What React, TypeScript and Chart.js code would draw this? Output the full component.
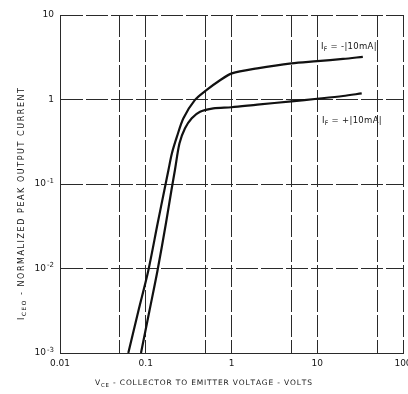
import React, { useEffect, useRef } from "react";
import { Chart, registerables } from "chart.js";

Chart.register(...registerables);

const upperX = [0.0626, 0.0823, 0.107, 0.1377, 0.165, 0.184, 0.202, 0.231, 0.275, 0.375, 0.514, 0.714, 1.01, 2, 5, 10, 20, 34];
const upperY = [0.001, 0.00318, 0.0094, 0.0343, 0.085, 0.1465, 0.231, 0.363, 0.6, 0.99, 1.3, 1.655, 2.04, 2.34, 2.68, 2.84, 3.02, 3.2];
const lowerX = [0.088, 0.1106, 0.137, 0.172, 0.1995, 0.219, 0.2475, 0.287, 0.344, 0.43, 0.614, 1.0, 2, 5, 10, 20, 33];
const lowerY = [0.001, 0.00318, 0.0094, 0.0343, 0.085, 0.1465, 0.303, 0.456, 0.6, 0.717, 0.787, 0.81, 0.87, 0.95, 1.02, 1.1, 1.18];

const xTickValues = [0.01, 0.1, 1, 10, 100];
const xTickLabels = ["0.01", "0.1", "1", "10", "100"];
const xGridValues = [0.01, 0.05, 0.1, 0.5, 1, 5, 10, 50, 100];
const yTickValues = [0.001, 0.01, 0.1, 1, 10];
const yTickBases = ["10", "10", "10", "1", "10"];
const yTickExps = ["-3", "-2", "-1", "", ""];

const upperLabel = [{ t: "I" }, { t: "F", sub: true }, { t: " = -|10mA|" }];
const lowerLabel = [{ t: "I" }, { t: "F", sub: true }, { t: " = +|10mA|" }];
const xTitle = [{ t: "V" }, { t: "CE", sub: true }, { t: " - COLLECTOR TO EMITTER VOLTAGE - VOLTS" }];
const yTitle = [{ t: "I" }, { t: "CEO", sub: true }, { t: " - NORMALIZED PEAK OUTPUT CURRENT" }];

type Part = { t: string; sub?: boolean };
const FONT = '"DejaVu Sans", sans-serif';

function measureParts(ctx: CanvasRenderingContext2D, parts: Part[], size: number) {
  let w = 0;
  let n = 0;
  for (const p of parts) {
    ctx.font = `${p.sub ? size * 0.72 : size}px ${FONT}`;
    for (const ch of p.t) {
      w += ctx.measureText(ch).width;
      n++;
    }
  }
  return { w, n };
}

function drawParts(ctx: CanvasRenderingContext2D, parts: Part[], x: number, y: number, size: number, spacing: number) {
  let cx = x;
  for (const p of parts) {
    ctx.font = `${p.sub ? size * 0.72 : size}px ${FONT}`;
    const dy = p.sub ? size * 0.32 : 0;
    for (const ch of p.t) {
      ctx.fillText(ch, cx, y + dy);
      cx += ctx.measureText(ch).width + spacing;
    }
  }
  return cx - x;
}

function drawFitted(ctx: CanvasRenderingContext2D, parts: Part[], x: number, y: number, size: number, width: number) {
  const m = measureParts(ctx, parts, size);
  const spacing = (width - m.w) / Math.max(1, m.n - 1);
  drawParts(ctx, parts, x, y, size, spacing);
}

const textPlugin = {
  id: "textPlugin",
  afterDraw(chart: any) {
    const ctx: CanvasRenderingContext2D = chart.ctx;
    const xs = chart.scales.x;
    const ys = chart.scales.y;
    ctx.save();
    ctx.fillStyle = "#151515";
    ctx.textBaseline = "middle";
    ctx.textAlign = "center";
    ctx.font = `9px ${FONT}`;
    xTickValues.forEach((v, i) => {
      ctx.fillText(xTickLabels[i], xs.getPixelForValue(v), 364);
    });
    ctx.textAlign = "left";
    yTickValues.forEach((v, i) => {
      const py = ys.getPixelForValue(v);
      ctx.font = `9px ${FONT}`;
      const bw = ctx.measureText(yTickBases[i]).width;
      ctx.font = `7px ${FONT}`;
      const ew = yTickExps[i] ? ctx.measureText(yTickExps[i]).width + 1 : 0;
      const right = 54;
      const start = right - bw - ew;
      ctx.font = `9px ${FONT}`;
      ctx.fillText(yTickBases[i], start, py);
      if (yTickExps[i]) {
        ctx.font = `7px ${FONT}`;
        ctx.fillText(yTickExps[i], start + bw + 1, py - 3);
      }
    });
    drawParts(ctx, upperLabel, 321, 47, 8.5, 0.3);
    drawParts(ctx, lowerLabel, 322, 121, 8.5, 0.3);
    drawFitted(ctx, xTitle, 95, 383, 7.5, 217);
    ctx.translate(22, 204);
    ctx.rotate(-Math.PI / 2);
    drawFitted(ctx, yTitle, -116, 0, 8, 232);
    ctx.restore();
  },
};

export default function App() {
  const ref = useRef<HTMLCanvasElement | null>(null);
  useEffect(() => {
    if (!ref.current) return;
    const gridStyle = { color: "#2a2a2a", lineWidth: 1, drawTicks: false };
    const chart = new Chart(ref.current, {
      type: "line",
      data: {
        datasets: [
          {
            label: "IF = -|10mA|",
            data: upperX.map((x, i) => ({ x, y: upperY[i] })),
            borderColor: "#111",
            borderWidth: 2.2,
            pointRadius: 0,
            tension: 0.3,
            fill: false,
          },
          {
            label: "IF = +|10mA|",
            data: lowerX.map((x, i) => ({ x, y: lowerY[i] })),
            borderColor: "#111",
            borderWidth: 2.2,
            pointRadius: 0,
            tension: 0.3,
            fill: false,
          },
        ],
      },
      options: {
        responsive: false,
        animation: false,
        events: [],
        layout: { padding: { left: 60, right: 5, top: 15, bottom: 41 } },
        plugins: { legend: { display: false }, tooltip: { enabled: false } },
        scales: {
          x: {
            type: "logarithmic",
            min: 0.01,
            max: 100,
            afterBuildTicks: (s: any) => {
              s.ticks = xGridValues.map((v) => ({ value: v }));
            },
            ticks: { display: false },
            grid: gridStyle,
            border: { display: true, color: "#2a2a2a", width: 1, dash: [22, 3] },
          },
          y: {
            type: "logarithmic",
            min: 0.001,
            max: 10,
            afterBuildTicks: (s: any) => {
              s.ticks = yTickValues.map((v) => ({ value: v }));
            },
            ticks: { display: false },
            grid: gridStyle,
            border: { display: true, color: "#2a2a2a", width: 1, dash: [22, 3] },
          },
        },
      },
      plugins: [textPlugin],
    } as any);
    return () => chart.destroy();
  }, []);
  return (
    <div style={{ position: "absolute", left: 0, top: 0, width: 408, height: 394, background: "#fff" }}>
      <canvas ref={ref} width={408} height={394} style={{ width: 408, height: 394 }} />
    </div>
  );
}
